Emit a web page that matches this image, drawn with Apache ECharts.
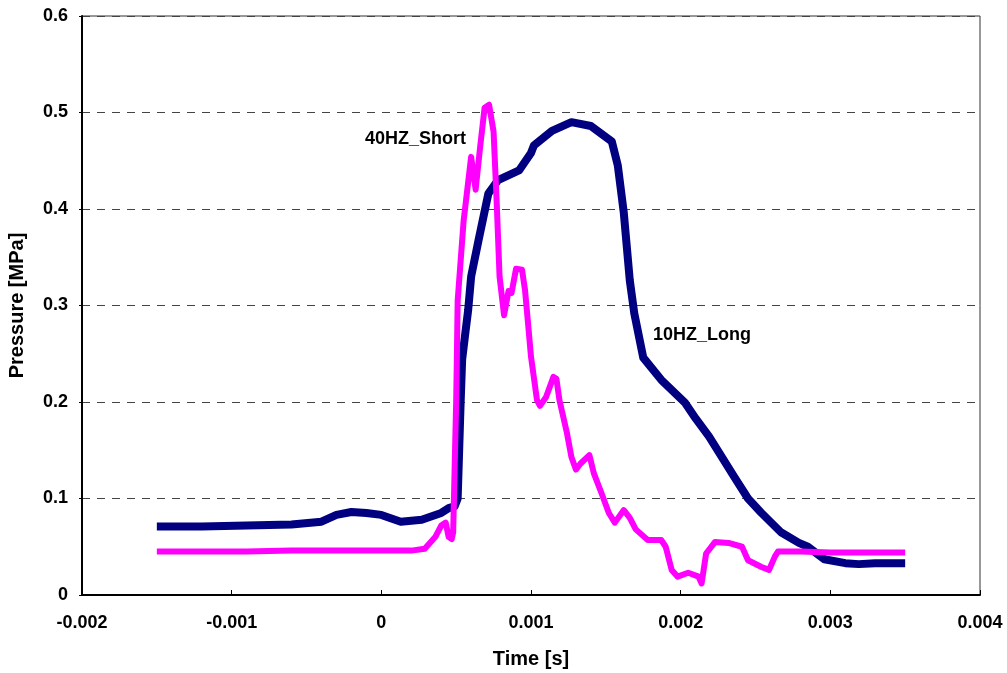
<!DOCTYPE html>
<html>
<head>
<meta charset="utf-8">
<script src="https://cdn.jsdelivr.net/npm/echarts@6/dist/echarts.min.js"></script>
<style>
  html, body { margin: 0; padding: 0; background: #fff; }
  #chart { width: 1007px; height: 673px; }
</style>
</head>
<body>
<div id="chart"></div>
<script>
// x ticks / y ticks
var xTicks = [-0.002, -0.001, 0, 0.001, 0.002, 0.003, 0.004];
var yTicks = [0, 0.1, 0.2, 0.3, 0.4, 0.5, 0.6];

// 10HZ_Long (navy)
var longTime = [-0.0015, -0.0012, -0.0009, -0.0006, -0.0004, -0.0003, -0.0002, -0.0001, 0, 0.00013, 0.00027, 0.0004, 0.00045,
  0.00049, 0.00051, 0.00052, 0.00053, 0.00054, 0.00056, 0.00058, 0.0006, 0.00065, 0.000715, 0.00078, 0.00092, 0.001,
  0.00102, 0.00114, 0.00127, 0.0014, 0.00154, 0.00158, 0.00162, 0.00166, 0.00169, 0.00175, 0.00187, 0.00203,
  0.0021, 0.00219, 0.00236, 0.00245, 0.00254, 0.00267, 0.00279, 0.00285, 0.00296, 0.0031, 0.00319, 0.0033, 0.0035];
var longPress = [0.071, 0.071, 0.072, 0.073, 0.076, 0.083, 0.086, 0.085, 0.083, 0.076, 0.078, 0.085, 0.09,
  0.092, 0.10, 0.15, 0.20, 0.244, 0.27, 0.295, 0.33, 0.368, 0.416, 0.43, 0.44, 0.458,
  0.466, 0.481, 0.49, 0.486, 0.47, 0.445, 0.396, 0.326, 0.292, 0.246, 0.223, 0.199,
  0.183, 0.164, 0.122, 0.1, 0.085, 0.065, 0.054, 0.05, 0.037, 0.033, 0.032, 0.033, 0.033];

// 40HZ_Short (magenta)
var shortTime = [-0.0015, -0.0012, -0.0009, -0.0006, -0.0003, 0, 0.0002, 0.00029, 0.00036, 0.0004, 0.00043, 0.00045, 0.00047,
  0.00048, 0.00049, 0.0005, 0.000505, 0.00051, 0.00055, 0.0006, 0.00063, 0.00066, 0.00069, 0.00072, 0.00075, 0.00077,
  0.00079, 0.00082, 0.00085, 0.00087, 0.0009, 0.00094, 0.00096, 0.00098, 0.001, 0.00104, 0.00106, 0.0011, 0.00115,
  0.00117, 0.00119, 0.00124, 0.00127, 0.0013, 0.00133, 0.00139, 0.00142, 0.00147, 0.00152, 0.00156, 0.00162, 0.00166,
  0.0017, 0.00178, 0.00187, 0.0019, 0.00194, 0.00198, 0.00205, 0.00212, 0.00214, 0.00217, 0.00223, 0.00232, 0.00241,
  0.00245, 0.00254, 0.00259, 0.00263, 0.00265, 0.0028, 0.003, 0.0032, 0.0035];
var shortPress = [0.045, 0.045, 0.045, 0.046, 0.046, 0.046, 0.046, 0.048, 0.06, 0.072, 0.075, 0.06, 0.058,
  0.065, 0.133, 0.2, 0.25, 0.305, 0.388, 0.454, 0.42, 0.464, 0.505, 0.508, 0.48, 0.41,
  0.33, 0.29, 0.315, 0.313, 0.338, 0.337, 0.316, 0.282, 0.247, 0.202, 0.196, 0.205, 0.226,
  0.224, 0.202, 0.168, 0.143, 0.13, 0.136, 0.145, 0.126, 0.106, 0.085, 0.075, 0.088, 0.08,
  0.068, 0.057, 0.057, 0.05, 0.026, 0.019, 0.023, 0.019, 0.012, 0.043, 0.055, 0.054, 0.05,
  0.036, 0.029, 0.026, 0.04, 0.045, 0.045, 0.044, 0.044, 0.044];

function pairs(t, p) {
  return t.map(function (x, i) { return [x, p[i]]; });
}

var boldFont = 'Liberation Sans, Arial, sans-serif';
var chart = echarts.init(document.getElementById('chart'));

chart.setOption({
  animation: false,
  backgroundColor: '#fff',
  grid: {
    left: 82, right: 27, top: 16, bottom: 78,
    outerBoundsMode: 'none', containLabel: false,
    show: true, borderColor: '#333', borderWidth: 1
  },
  xAxis: {
    type: 'value',
    min: xTicks[0], max: xTicks[xTicks.length - 1], interval: 0.001,
    name: 'Time [s]', nameLocation: 'middle', nameGap: 54,
    nameTextStyle: { fontFamily: boldFont, fontWeight: 'bold', fontSize: 20, color: '#000' },
    axisLine: { onZero: false, lineStyle: { color: '#000', width: 2 } },
    axisTick: { inside: true, length: 5, lineStyle: { color: '#000' } },
    axisLabel: {
      margin: 19, fontFamily: boldFont, fontWeight: 'bold', fontSize: 18, color: '#000',
      formatter: function (v) { return Math.abs(v) < 1e-9 ? '0' : v.toFixed(3); }
    },
    splitLine: { show: false }
  },
  yAxis: {
    type: 'value',
    min: yTicks[0], max: yTicks[yTicks.length - 1], interval: 0.1,
    name: 'Pressure [MPa]', nameLocation: 'middle', nameGap: 55,
    nameTextStyle: { fontFamily: boldFont, fontWeight: 'bold', fontSize: 20, color: '#000' },
    axisLine: { show: true, onZero: false, lineStyle: { color: '#000', width: 2 } },
    axisTick: { show: true, length: 3, lineStyle: { color: '#000' } },
    axisLabel: {
      margin: 14, fontFamily: boldFont, fontWeight: 'bold', fontSize: 18, color: '#000',
      formatter: function (v) { return Math.abs(v) < 1e-9 ? '0' : v.toFixed(1); }
    },
    splitLine: { show: true, lineStyle: { color: '#444', width: 1, type: [8, 7] } }
  },
  series: [
    {
      name: '10HZ_Long', type: 'line', symbol: 'none',
      data: pairs(longTime, longPress),
      lineStyle: { color: '#000080', width: 8, join: 'round' }
    },
    {
      name: '40HZ_Short', type: 'line', symbol: 'none',
      data: pairs(shortTime, shortPress),
      lineStyle: { color: '#ff00ff', width: 6, join: 'round' }
    }
  ],
  graphic: [
    { type: 'text', left: 365, top: 130, style: { text: '40HZ_Short', fontFamily: boldFont, fontWeight: 'bold', fontSize: 18, fill: '#000' } },
    { type: 'text', left: 653, top: 326, style: { text: '10HZ_Long', fontFamily: boldFont, fontWeight: 'bold', fontSize: 18, fill: '#000' } }
  ]
});
</script>
</body>
</html>
